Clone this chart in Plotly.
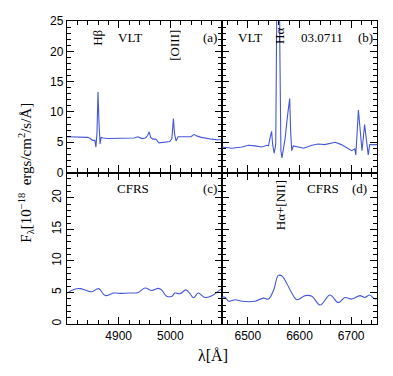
import plotly.graph_objects as go
from plotly.subplots import make_subplots

# ── spectra ────────────────────────────────────────────────────────────────
# (a) VLT, Hbeta / [OIII] region
wl_a = [4800, 4810, 4820, 4830, 4840, 4845, 4850, 4854, 4856, 4858, 4860, 4862,
        4864, 4866, 4870, 4880, 4890, 4900, 4910, 4920, 4930, 4937, 4945, 4952,
        4956, 4959, 4962, 4966, 4972, 4978, 4985, 4992, 4999, 5003, 5006, 5008,
        5011, 5015, 5020, 5030, 5040, 5046, 5052, 5060, 5070, 5080, 5090, 5100]
fl_a = [5.9, 5.9, 5.8, 5.9, 5.8, 5.6, 5.3, 5.3, 4.2, 6.5, 13.3, 8.0,
        4.7, 5.8, 5.7, 5.6, 5.6, 5.7, 5.6, 5.7, 5.7, 5.9, 5.6, 5.7,
        6.1, 6.7, 5.8, 5.5, 5.5, 4.9, 5.0, 5.1, 5.1, 5.6, 8.9, 6.5,
        5.2, 5.9, 5.9, 5.9, 5.9, 6.3, 6.0, 5.8, 5.6, 5.5, 5.4, 5.4]

# (b) VLT, Halpha / [NII] / [SII] region
wl_b = [6450, 6469, 6489, 6501, 6514, 6527, 6537, 6540, 6543, 6546, 6548, 6551,
        6554, 6557, 6559, 6562, 6564, 6566, 6570, 6572, 6577, 6581, 6583, 6585,
        6588, 6595, 6608, 6624, 6636, 6649, 6669, 6681, 6694, 6701, 6707, 6709,
        6714, 6718, 6721, 6726, 6730, 6733, 6736, 6750]
fl_b = [4.2, 4.0, 4.2, 4.5, 4.4, 4.2, 4.5, 4.4, 5.7, 6.8, 4.6, 3.2,
        4.6, 32.0, 60.0, 20.0, 3.6, 2.4, 4.1, 5.5, 9.5, 12.2, 6.5, 3.6,
        4.4, 4.3, 4.0, 4.5, 4.7, 4.6, 5.0, 4.6, 4.0, 3.6, 3.9, 2.9,
        10.3, 5.6, 3.6, 7.9, 5.5, 2.9, 4.6, 4.6]

# (c) CFRS, same range as (a)
wl_c = [4800, 4816, 4826, 4835, 4848, 4861, 4874, 4890, 4906, 4922, 4938, 4951,
        4964, 4977, 4983, 4993, 5003, 5009, 5019, 5030, 5038, 5045, 5054, 5067,
        5083, 5096, 5100]
fl_c = [4.9, 5.55, 5.6, 5.4, 5.1, 5.6, 4.5, 4.9, 4.85, 4.9, 5.0, 5.7,
        5.3, 5.65, 5.4, 4.4, 4.4, 4.9, 4.8, 5.4, 4.8, 4.15, 4.9, 4.2,
        4.6, 5.4, 5.6]

# (d) CFRS, same range as (b)
wl_d = [6450, 6456, 6463, 6476, 6489, 6514, 6530, 6540, 6550, 6559, 6566, 6575,
        6585, 6595, 6611, 6624, 6640, 6659, 6675, 6688, 6701, 6717, 6726, 6736,
        6745, 6750]
fl_d = [4.25, 4.25, 3.6, 3.85, 3.6, 3.6, 4.1, 3.95, 5.4, 7.7, 7.6, 6.5,
        4.9, 3.85, 4.5, 4.4, 3.0, 4.6, 3.4, 4.2, 3.95, 4.5, 4.2, 4.6,
        4.0, 4.0]

xrange_blue = [4800, 5100]
xrange_red = [6450, 6750]
xticks_blue = [4800, 4900, 5000, 5100]
xlabels_blue = ['', '4900', '5000', '']
xticks_red = [6500, 6600, 6700]
xlabels_red = ['6500', '6600', '6700']

LINE = '#4458d6'
SERIF = 'Liberation Serif, Times New Roman, serif'
SANS = 'Liberation Sans, Arial, sans-serif'

fig = make_subplots(rows=2, cols=2, horizontal_spacing=0, vertical_spacing=0)

panels = [(wl_a, fl_a, 1, 1, 'linear'), (wl_b, fl_b, 1, 2, 'linear'),
          (wl_c, fl_c, 2, 1, 'spline'), (wl_d, fl_d, 2, 2, 'spline')]
for wl, fl, r, c, shape in panels:
    fig.add_trace(go.Scatter(x=wl, y=fl, mode='lines',
                             line=dict(color=LINE, width=1.1, shape=shape),
                             showlegend=False, hoverinfo='skip'), row=r, col=c)

ax_common = dict(showline=True, linecolor='black', linewidth=1.4, mirror='ticks',
                 ticks='inside', ticklen=7, tickwidth=1, tickcolor='black',
                 showgrid=False, zeroline=False,
                 tickfont=dict(family=SANS, size=12, color='black'))

for r in (1, 2):
    for c in (1, 2):
        fig.update_xaxes(ax_common, row=r, col=c,
                         range=xrange_blue if c == 1 else xrange_red,
                         tickmode='array',
                         tickvals=xticks_blue if c == 1 else xticks_red,
                         ticktext=xlabels_blue if c == 1 else xlabels_red,
                         minor=dict(tickmode='linear', tick0=0, dtick=20,
                                    ticks='inside', ticklen=4,
                                    tickcolor='black', showgrid=False),
                         showticklabels=(r == 2))
        fig.update_yaxes(ax_common, row=r, col=c,
                         range=[0, 25] if r == 1 else [0, 24],
                         dtick=5, tick0=0,
                         minor=dict(dtick=1, ticks='inside', ticklen=4,
                                    tickcolor='black', showgrid=False),
                         showticklabels=(c == 1),
                         tickangle=0 if r == 1 else -90)

# ── panel labels ──────────────────────────────────────────────────────────
def lab(text, x, y, xref, yref, angle=0):
    return dict(text=text, x=x, y=y, xref=xref, yref=yref, showarrow=False,
                textangle=angle, font=dict(family=SERIF, size=13, color='black'))

notes = [
    lab('Hβ', 4859, 22.3, 'x', 'y', -90),
    lab('VLT', 4922, 22.3, 'x', 'y'),
    lab('[OIII]', 5008, 21.0, 'x', 'y', -90),
    lab('(a)', 5076, 22.3, 'x', 'y'),
    lab('VLT', 6504, 22.3, 'x2', 'y2'),
    lab('Hα', 6561, 22.6, 'x2', 'y2', -90),
    lab('03.0711', 6644, 22.3, 'x2', 'y2'),
    lab('(b)', 6727, 22.3, 'x2', 'y2'),
    lab('CFRS', 4928, 21.5, 'x3', 'y3'),
    lab('(c)', 5076, 21.5, 'x3', 'y3'),
    lab('Hα+[NII]', 6562, 18.8, 'x4', 'y4', -90),
    lab('CFRS', 6645, 21.5, 'x4', 'y4'),
    lab('(d)', 6716, 21.5, 'x4', 'y4'),
    dict(text='λ[Å]', x=0.472, y=-0.068, xref='paper', yref='paper',
         xanchor='center', yanchor='top', showarrow=False,
         font=dict(family=SERIF, size=16, color='black')),
    dict(text='F<sub>λ</sub>[10<sup>−18</sup>  ergs/cm<sup>2</sup>/s/Å]',
         x=-0.135, y=0.5, xref='paper', yref='paper', textangle=-90,
         xanchor='center', yanchor='middle', showarrow=False,
         font=dict(family=SERIF, size=15, color='black')),
]

# page body keeps its default 8px margin, so the figure is 8px smaller
fig.update_layout(
    width=385, height=368,
    margin=dict(l=59, r=16, t=6, b=52),
    paper_bgcolor='white', plot_bgcolor='white',
    annotations=notes,
)

fig.write_html("out.html")
